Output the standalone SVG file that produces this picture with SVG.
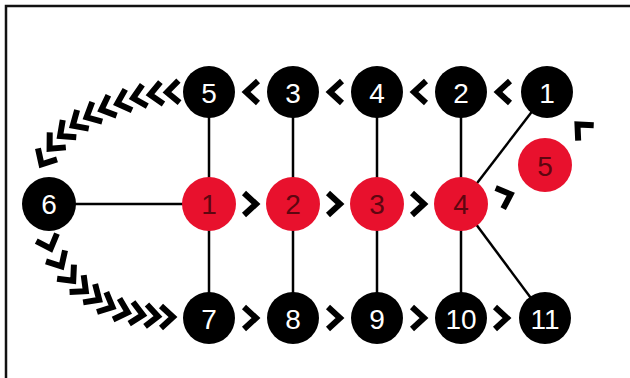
<svg xmlns="http://www.w3.org/2000/svg" xmlns:xlink="http://www.w3.org/1999/xlink" width="630" height="378" viewBox="0 0 630 378">
<style>
  .blk { fill: #000; }
  .red { fill: #e8112d; }
  .tw { font-family: "Liberation Sans", Arial, sans-serif; font-size: 28px; fill: #fff; text-anchor: middle; dominant-baseline: central; }
  .tr { font-family: "Liberation Sans", Arial, sans-serif; font-size: 28px; fill: #5e0610; text-anchor: middle; dominant-baseline: central; }
  .ln { stroke: #000; stroke-width: 2.5; fill: none; }
  .frame { stroke: #111; stroke-width: 2.5; fill: none; }
</style>
<defs>
  <path id="chev" d="M7,-11 L-5,0 L7,11" fill="none" stroke="#000" stroke-width="6" stroke-linejoin="miter" stroke-miterlimit="10"/>
</defs>
<rect x="0" y="0" width="630" height="378" fill="#fff"/>
<path class="frame" d="M6,378 L6,6 L630,6"/>

<g id="connectors">
  <line class="ln" x1="209" y1="92" x2="209" y2="317"/>
  <line class="ln" x1="293" y1="92" x2="293" y2="317"/>
  <line class="ln" x1="377" y1="92" x2="377" y2="317"/>
  <line class="ln" x1="461" y1="92" x2="461" y2="317"/>
  <line class="ln" x1="49" y1="204" x2="209" y2="204"/>
  <line class="ln" x1="461" y1="204" x2="547" y2="92"/>
  <line class="ln" x1="461" y1="204" x2="545" y2="317"/>
  <!-- top row chevrons -->
  <use xlink:href="#chev" transform="translate(251,92)"/>
  <use xlink:href="#chev" transform="translate(335,92)"/>
  <use xlink:href="#chev" transform="translate(419,92)"/>
  <use xlink:href="#chev" transform="translate(503,92)"/>
  <!-- middle row chevrons -->
  <use xlink:href="#chev" transform="translate(251,204) rotate(180)"/>
  <use xlink:href="#chev" transform="translate(335,204) rotate(180)"/>
  <use xlink:href="#chev" transform="translate(419,204) rotate(180)"/>
  <use xlink:href="#chev" transform="translate(506,196) rotate(160)"/>
  <use xlink:href="#chev" transform="translate(581,128) rotate(45)"/>
  <!-- bottom row chevrons -->
  <use xlink:href="#chev" transform="translate(251,318) rotate(180)"/>
  <use xlink:href="#chev" transform="translate(335,318) rotate(180)"/>
  <use xlink:href="#chev" transform="translate(419,318) rotate(180)"/>
  <use xlink:href="#chev" transform="translate(502,318) rotate(180)"/>
  <!-- top arc -->
  <use xlink:href="#chev" transform="translate(172,92) rotate(-3)"/>
  <use xlink:href="#chev" transform="translate(155,94) rotate(-8)"/>
  <use xlink:href="#chev" transform="translate(138,97) rotate(-13)"/>
  <use xlink:href="#chev" transform="translate(122,102) rotate(-18)"/>
  <use xlink:href="#chev" transform="translate(106,108) rotate(-22)"/>
  <use xlink:href="#chev" transform="translate(91,115) rotate(-27)"/>
  <use xlink:href="#chev" transform="translate(77,123) rotate(-32)"/>
  <use xlink:href="#chev" transform="translate(64,133) rotate(-38)"/>
  <use xlink:href="#chev" transform="translate(53,145) rotate(-47)"/>
  <use xlink:href="#chev" transform="translate(44,160) rotate(-60)"/>
  <!-- bottom arc -->
  <use xlink:href="#chev" transform="translate(49,244) rotate(250)"/>
  <use xlink:href="#chev" transform="translate(59,262) rotate(240)"/>
  <use xlink:href="#chev" transform="translate(70,277) rotate(230)"/>
  <use xlink:href="#chev" transform="translate(82,288) rotate(220)"/>
  <use xlink:href="#chev" transform="translate(95,297) rotate(213)"/>
  <use xlink:href="#chev" transform="translate(108,305) rotate(205)"/>
  <use xlink:href="#chev" transform="translate(123,311) rotate(197)"/>
  <use xlink:href="#chev" transform="translate(138,314) rotate(190)"/>
  <use xlink:href="#chev" transform="translate(153,316) rotate(185)"/>
  <use xlink:href="#chev" transform="translate(168,317) rotate(180)"/>
</g>

<g id="top5"><circle class="blk" cx="209" cy="92" r="26"/><text class="tw" x="209" y="93">5</text></g>
<g id="top3"><circle class="blk" cx="293" cy="92" r="26"/><text class="tw" x="293" y="93">3</text></g>
<g id="top4"><circle class="blk" cx="377" cy="92" r="26"/><text class="tw" x="377" y="93">4</text></g>
<g id="top2"><circle class="blk" cx="461" cy="92" r="26"/><text class="tw" x="461" y="93">2</text></g>
<g id="top1"><circle class="blk" cx="547" cy="92" r="26"/><text class="tw" x="547" y="93">1</text></g>

<g id="mid6"><circle class="blk" cx="49" cy="204" r="27"/><text class="tw" x="49" y="204">6</text></g>
<g id="red1"><circle class="red" cx="209" cy="204" r="27"/><text class="tr" x="209" y="204">1</text></g>
<g id="red2"><circle class="red" cx="293" cy="204" r="27"/><text class="tr" x="293" y="204">2</text></g>
<g id="red3"><circle class="red" cx="377" cy="204" r="27"/><text class="tr" x="377" y="204">3</text></g>
<g id="red4"><circle class="red" cx="461" cy="204" r="27"/><text class="tr" x="461" y="204">4</text></g>
<g id="red5"><circle class="red" cx="545" cy="165" r="27"/><text class="tr" x="545" y="166">5</text></g>

<g id="bot7"><circle class="blk" cx="209" cy="318" r="26"/><text class="tw" x="209" y="319">7</text></g>
<g id="bot8"><circle class="blk" cx="293" cy="318" r="26"/><text class="tw" x="293" y="319">8</text></g>
<g id="bot9"><circle class="blk" cx="377" cy="318" r="26"/><text class="tw" x="377" y="319">9</text></g>
<g id="bot10"><circle class="blk" cx="461" cy="318" r="26"/><text class="tw" x="461" y="319">10</text></g>
<g id="bot11"><circle class="blk" cx="545" cy="318" r="26"/><text class="tw" x="545" y="319">11</text></g>
</svg>
